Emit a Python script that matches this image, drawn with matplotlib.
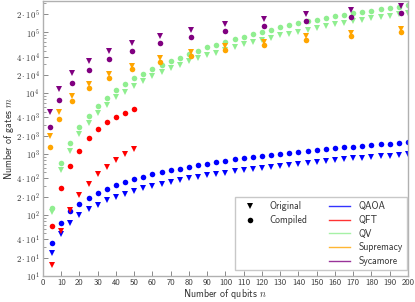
import matplotlib
matplotlib.use('Agg')
import matplotlib.pyplot as plt
from matplotlib.lines import Line2D
from matplotlib.ticker import FixedLocator, NullFormatter

plt.rcParams['font.family'] = 'cmss10'
plt.rcParams['mathtext.fontset'] = 'cm'
plt.rcParams['axes.unicode_minus'] = False

# ---------------- data ----------------
n_qaoa = list(range(5, 205, 5))
qaoa_orig = [24, 49, 74, 99, 124, 149, 174, 199, 224, 249, 274, 299, 324, 349,
             374, 399, 424, 449, 474, 499, 524, 549, 574, 599, 624, 649, 674,
             699, 724, 749, 774, 799, 824, 849, 874, 899, 924, 949, 974, 999]
qaoa_comp = [35, 75, 115, 153, 190, 232, 270, 310, 350, 388, 425, 465, 502,
             542, 580, 620, 660, 700, 738, 778, 818, 856, 895, 935, 975, 1012,
             1050, 1090, 1130, 1170, 1208, 1246, 1285, 1325, 1363, 1400, 1440,
             1480, 1518, 1556]

n_qft = list(range(5, 55, 5))
qft_orig = [15, 55, 120, 210, 325, 465, 625, 810, 1020, 1230]
qft_comp = [65, 274, 636, 1135, 1807, 2541, 3311, 4000, 4753, 5470]

n_qv = list(range(5, 205, 5))
qv_orig = [111, 540, 1135, 2104, 3184, 4753, 6355, 8510, 10500, 13190, 15740,
           18800, 22100, 25700, 28770, 33480, 37510, 41990, 46470, 52040,
           56770, 63550, 68500, 74750, 81260, 88690, 95290, 102700, 109000,
           117600, 125300, 135200, 142000, 153100, 161400, 169700, 178300,
           188000, 199600, 210300]
qv_comp = [132, 703, 1514, 2773, 4249, 6281, 8375, 11190, 14050, 17830, 21040,
           25410, 28770, 34370, 38480, 44750, 50120, 56780, 62860, 70380,
           76770, 85070, 92730, 101100, 109900, 119900, 130300, 140500,
           151500, 159200, 171500, 182800, 192000, 204800, 215100, 226800,
           238300, 250300, 263800, 280400]

n_grid = [4, 9, 16, 25, 36, 49, 64, 81, 100, 121, 144, 169, 196]
sup_orig = [1972, 4890, 8930, 14420, 21040, 28450, 37500, 47540, 58900, 69330,
            85910, 97400, 115000]
sup_comp = [1318, 3793, 7396, 12080, 17830, 24550, 32590, 41500, 50690, 61220,
            75860, 88290, 101100]
syc_orig = [4830, 11510, 21280, 33480, 48850, 66840, 88350, 110700, 136800,
            167800, 197300, 232200, 274100]
syc_comp = [2740, 7670, 14760, 24480, 36090, 49750, 66070, 83790, 105000,
            128800, 151400, 178200, 207100]

names = ['QAOA', 'QFT', 'QV', 'Supremacy', 'Sycamore']
colors = ['#0000ff', '#ff0000', '#90ee90', '#ffa500', '#800080']

x_ticks = list(range(0, 210, 10))
y_label_ticks = [10, 20, 40, 100, 200, 400, 1000, 2000, 4000, 10000, 20000,
                 40000, 100000, 200000]
y_tick_labels = [r'$\mathsf{10^{1}}$', r'$\mathsf{2\cdot10^{1}}$', r'$\mathsf{4\cdot10^{1}}$',
                 r'$\mathsf{10^{2}}$', r'$\mathsf{2\cdot10^{2}}$', r'$\mathsf{4\cdot10^{2}}$',
                 r'$\mathsf{10^{3}}$', r'$\mathsf{2\cdot10^{3}}$', r'$\mathsf{4\cdot10^{3}}$',
                 r'$\mathsf{10^{4}}$', r'$\mathsf{2\cdot10^{4}}$', r'$\mathsf{4\cdot10^{4}}$',
                 r'$\mathsf{10^{5}}$', r'$\mathsf{2\cdot10^{5}}$']

# ---------------- figure ----------------
fig = plt.figure(figsize=(4.15, 3.02), dpi=100)
ax = fig.add_axes([0.1036, 0.0861, 0.8795, 0.909])

series = [
    (n_qaoa, qaoa_orig, qaoa_comp),
    (n_qft, qft_orig, qft_comp),
    (n_qv, qv_orig, qv_comp),
    (n_grid, sup_orig, sup_comp),
    (n_grid, syc_orig, syc_comp),
]
ms = 4.0
for (xs, orig, comp), c in zip(series, colors):
    ax.plot(xs, orig, linestyle='none', marker='v', color=c, markersize=ms,
            markeredgewidth=0)
    ax.plot(xs, comp, linestyle='none', marker='o', color=c, markersize=ms,
            markeredgewidth=0)

ax.set_yscale('log')
ax.set_xlim(0, 200)
ax.set_ylim(10, 3.2e5)

ax.set_xticks(x_ticks)
ax.set_xticklabels([str(v) for v in x_ticks])
ax.yaxis.set_major_locator(FixedLocator(y_label_ticks))
ax.set_yticklabels(y_tick_labels)
minor = []
for dec in [10, 100, 1000, 10000, 100000]:
    for k in [3, 5, 6, 7, 8, 9]:
        if dec * k <= 3.2e5:
            minor.append(dec * k)
ax.yaxis.set_minor_locator(FixedLocator(minor))
ax.yaxis.set_minor_formatter(NullFormatter())

spine_c = '#b0b0b0'
for s in ax.spines.values():
    s.set_color(spine_c)
    s.set_linewidth(1.0)
ax.tick_params(which='both', direction='in', color='#777777', labelcolor='#333333',
               labelsize=6.3, top=False, right=False)
ax.tick_params(which='major', length=3.5, width=0.6, pad=2.5)
ax.tick_params(which='minor', length=2, width=0.5)
ax.xaxis.set_tick_params(which='minor', bottom=False)

ax.set_xlabel(r'Number of qubits $n$', fontsize=7.2, color='#333333', va='center')
ax.set_ylabel(r'Number of gates $m$', fontsize=7.2, color='#333333', va='center')
ax.xaxis.set_label_coords(0.5, -0.067)
ax.yaxis.set_label_coords(-0.093, 0.5)

# ---------------- legend ----------------
blank = Line2D([], [], linestyle='none', marker=None)
handles = [
    Line2D([], [], linestyle='none', marker='v', color='black', markersize=ms, markeredgewidth=0),
    Line2D([], [], linestyle='none', marker='o', color='black', markersize=ms, markeredgewidth=0),
    blank, blank, blank,
]
labels = ['Original', 'Compiled', '', '', '']
for nm, c in zip(names, colors):
    handles.append(Line2D([], [], color=c, linewidth=1.0, alpha=0.8))
    labels.append(nm)

leg = ax.legend(handles, labels, ncol=2, loc='lower right',
                bbox_to_anchor=(0.997, 0.022), borderaxespad=0,
                fontsize=7, frameon=True, fancybox=False, framealpha=1,
                edgecolor='#c8c8c8', handlelength=2.2, handletextpad=0.9,
                columnspacing=2.2, labelspacing=0.38, borderpad=0.4)
leg.get_frame().set_linewidth(1.0)
for t in leg.get_texts():
    t.set_color('#333333')

fig.savefig('out.png', dpi=100)
